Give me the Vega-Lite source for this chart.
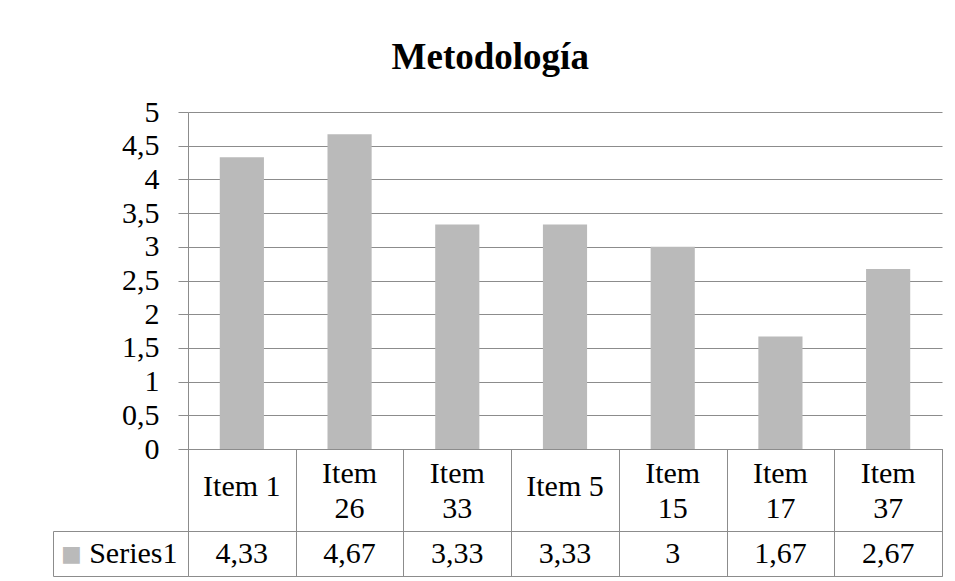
{
  "$schema": "https://vega.github.io/schema/vega-lite/v6.json",
  "padding": {"left": 52, "top": 39, "right": 0, "bottom": 0},
  "background": "white",
  "config": {
    "font": "Liberation Serif",
    "locale": {"number": {"decimal": ",", "thousands": ".", "grouping": [3], "currency": ["", " €"]}},
    "view": {"stroke": null}
  },
  "title": {"text": "Metodología", "fontSize": 37, "fontWeight": "bold", "font": "Liberation Serif", "color": "black", "anchor": "middle", "offset": 20, "dx": -7},
  "data": {"values": [
    {"item": "Item 1", "series": "Series1", "value": 4.33},
    {"item": "Item 26", "series": "Series1", "value": 4.67},
    {"item": "Item 33", "series": "Series1", "value": 3.33},
    {"item": "Item 5", "series": "Series1", "value": 3.33},
    {"item": "Item 15", "series": "Series1", "value": 3},
    {"item": "Item 17", "series": "Series1", "value": 1.67},
    {"item": "Item 37", "series": "Series1", "value": 2.67}
  ]},
  "bounds": "flush",
  "spacing": 0,
  "vconcat": [
    {
      "width": 754,
      "height": 337,
      "mark": {"type": "bar", "color": "#bababa", "width": {"band": 0.41}},
      "encoding": {
        "x": {
          "field": "item", "type": "nominal", "sort": null,
          "scale": {"paddingInner": 0, "paddingOuter": 0},
          "axis": {"title": null, "labels": false, "ticks": false, "domainColor": "#8c8c8c"}
        },
        "y": {
          "field": "value", "type": "quantitative",
          "scale": {"domain": [0, 5]},
          "axis": {
            "title": null, "values": [0, 0.5, 1, 1.5, 2, 2.5, 3, 3.5, 4, 4.5, 5],
            "format": ".1~f", "labelFontSize": 30, "labelColor": "black",
            "labelPadding": 19, "tickSize": 10, "tickColor": "#8c8c8c",
            "domainColor": "#8c8c8c", "gridColor": "#8c8c8c", "gridOpacity": 1
          }
        }
      }
    },
    {
      "width": 754,
      "height": 82,
      "view": {"stroke": "#8c8c8c"},
      "encoding": {
        "x": {
          "field": "item", "type": "nominal",
          "scale": {"type": "band", "paddingInner": 0, "paddingOuter": 0, "domain": ["Item 1", "Item 26", "Item 33", "Item 5", "Item 15", "Item 17", "Item 37"]},
          "axis": {"title": null, "labels": false, "ticks": false, "domain": false, "grid": true, "tickBand": "extent", "gridColor": "#8c8c8c", "gridOpacity": 1}
        },
        "text": {"field": "item", "type": "nominal"}
      },
      "layer": [
        {
          "transform": [{"filter": "length(datum.item) <= 6"}],
          "mark": {"type": "text", "fontSize": 30, "color": "black", "baseline": "middle", "dy": -3}
        },
        {
          "transform": [{"filter": "length(datum.item) > 6"}],
          "mark": {"type": "text", "fontSize": 30, "color": "black", "baseline": "middle", "lineBreak": " ", "lineHeight": 35, "dy": -16}
        }
      ]
    },
    {
      "width": 754,
      "height": 45,
      "view": {"stroke": "#8c8c8c"},
      "mark": {"type": "text", "fontSize": 30, "color": "black", "baseline": "middle"},
      "encoding": {
        "x": {
          "field": "item", "type": "nominal", "sort": null,
          "scale": {"type": "band", "paddingInner": 0, "paddingOuter": 0},
          "axis": {"title": null, "labels": false, "ticks": false, "domain": false, "grid": true, "tickBand": "extent", "gridColor": "#8c8c8c", "gridOpacity": 1}
        },
        "y": {
          "field": "series", "type": "nominal",
          "scale": {"type": "band", "paddingInner": 0, "paddingOuter": 0},
          "axis": {
            "title": "■", "titleColor": "#bababa", "titleAngle": 0, "titleFontSize": 22,
            "titleFont": "DejaVu Sans", "titleX": 18, "titleY": 22.5, "titleAlign": "center", "titleBaseline": "middle",
            "offset": 135, "domainColor": "#8c8c8c", "tickColor": "#8c8c8c", "tickSize": -135,
            "tickBand": "extent", "labelFontSize": 30, "labelColor": "black", "labelPadding": 11
          }
        },
        "text": {"field": "value", "type": "quantitative", "format": ".2~f"}
      }
    }
  ]
}
